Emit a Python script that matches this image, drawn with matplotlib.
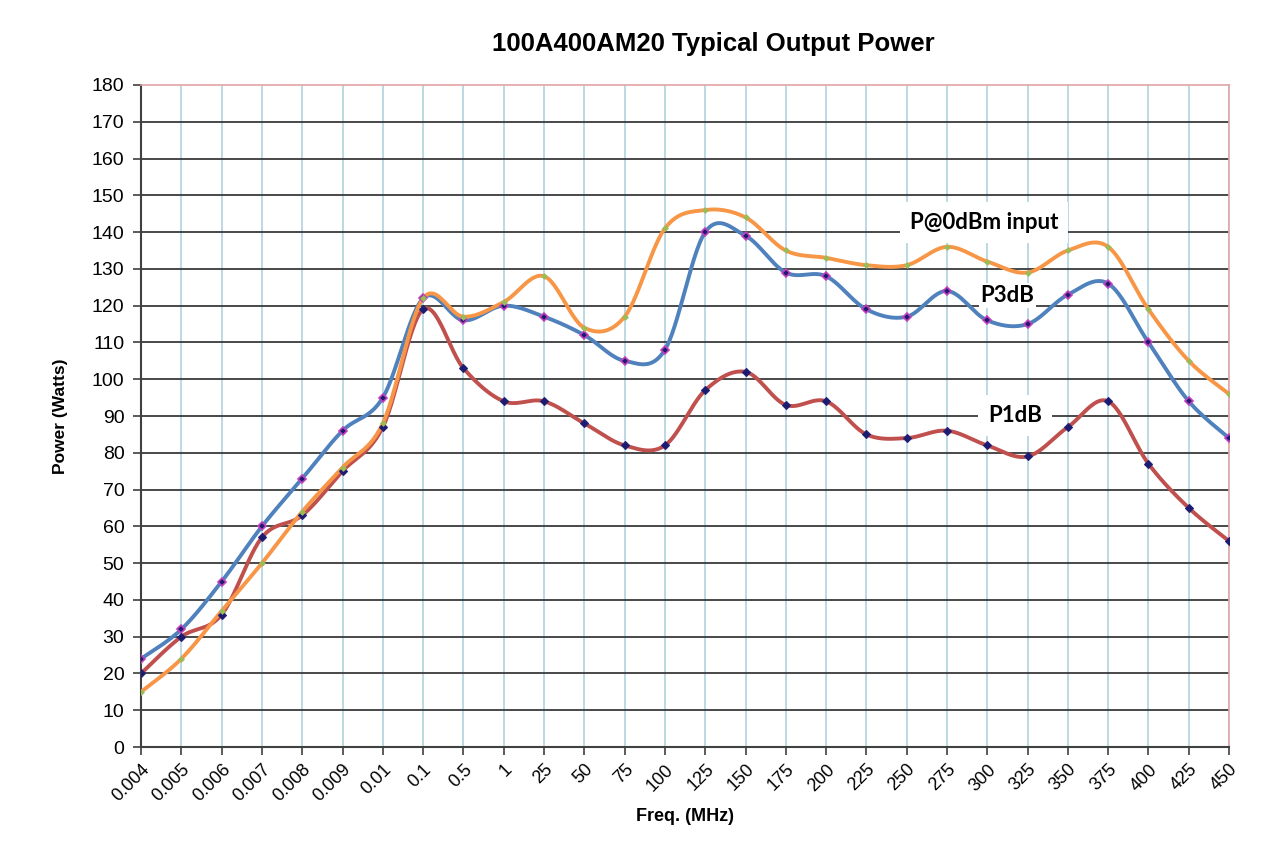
import numpy as np
import matplotlib
matplotlib.use("Agg")
import matplotlib.pyplot as plt

# frequency categories (MHz), plotted as evenly spaced categories
freq_labels = ['0.004', '0.005', '0.006', '0.007', '0.008', '0.009', '0.01',
               '0.1', '0.5', '1', '25', '50', '75', '100', '125', '150', '175',
               '200', '225', '250', '275', '300', '325', '350', '375', '400',
               '425', '450']

# output power in watts
p3db = [24, 32, 45, 60, 73, 86, 95, 122, 116, 120, 117, 112, 105, 108, 140,
        139, 129, 128, 119, 117, 124, 116, 115, 123, 126, 110, 94, 84]
p1db = [20, 30, 36, 57, 63, 75, 87, 119, 103, 94, 94, 88, 82, 82, 97,
        102, 93, 94, 85, 84, 86, 82, 79, 87, 94, 77, 65, 56]
p0dbm = [15, 24, 37, 50, 64, 76, 88, 122, 117, 121, 128, 114, 117, 141, 146,
         144, 135, 133, 131, 131, 136, 132, 129, 135, 136, 119, 105, 96]

y_ticks = list(range(0, 190, 10))


def smooth(x, y, n=30):
    # excel style smoothed line: bezier segments with catmull-rom tangents
    x = np.asarray(x, float)
    y = np.asarray(y, float)
    px = np.concatenate([[x[0]], x, [x[-1]]])
    py = np.concatenate([[y[0]], y, [y[-1]]])
    xs, ys = [], []
    t = np.linspace(0, 1, n)
    for i in range(1, len(px) - 2):
        p0 = np.array([px[i], py[i]])
        p3 = np.array([px[i + 1], py[i + 1]])
        c1 = p0 + (np.array([px[i + 1], py[i + 1]]) - np.array([px[i - 1], py[i - 1]])) / 6
        c2 = p3 - (np.array([px[i + 2], py[i + 2]]) - np.array([px[i], py[i]])) / 6
        b = ((1 - t) ** 3)[:, None] * p0 + (3 * (1 - t) ** 2 * t)[:, None] * c1 \
            + (3 * (1 - t) * t ** 2)[:, None] * c2 + (t ** 3)[:, None] * p3
        xs.extend(b[:, 0])
        ys.extend(b[:, 1])
    return xs, ys


x = np.arange(len(freq_labels))

fig = plt.figure(figsize=(12.8, 8.49), dpi=100)
ax = fig.add_axes([0.1102, 0.1201, 0.8500, 0.7798])

# grid
for xi in x:
    ax.axvline(xi, color='#a9d0dc', lw=1.1, zorder=0)
for yt in y_ticks[1:-1]:
    ax.axhline(yt, color='#3a3a3a', lw=1.3, zorder=0)

# series
sx, sy = smooth(x, p3db)
ax.plot(sx, sy, color='#4f81bd', lw=2.8, zorder=3, solid_capstyle='round')
ax.plot(x, p3db, ls='none', marker='D', ms=4.5, mfc='#1c1c6e', mec='#c040c0',
        mew=1.2, zorder=5)

sx, sy = smooth(x, p1db)
ax.plot(sx, sy, color='#c0504d', lw=2.8, zorder=3, solid_capstyle='round')
ax.plot(x, p1db, ls='none', marker='D', ms=4.5, mfc='#1c1c6e', mec='#22227a',
        mew=0.8, zorder=5)

sx, sy = smooth(x, p0dbm)
ax.plot(sx, sy, color='#f79646', lw=2.8, zorder=4, solid_capstyle='round')
ax.plot(x, p0dbm, ls='none', marker='D', ms=3, mfc='#9bbb59', mec='#9bbb59',
        mew=0.5, zorder=5)

# labels on the chart
lbl_font = dict(family='Lato', weight='bold', fontsize=16, color='black',
                ha='center', va='center', zorder=6)
ax.text(20.92, 142.7, 'P@0dBm input',
        bbox=dict(boxstyle='square,pad=0.45', fc='white', ec='none'), **lbl_font)
ax.text(21.5, 122.7, 'P3dB',
        bbox=dict(boxstyle='square,pad=0.08', fc='white', ec='none'), **lbl_font)
ax.text(21.69, 90.2, 'P1dB',
        bbox=dict(boxstyle='square,pad=0.45', fc='white', ec='none'), **lbl_font)

ax.set_xlim(0, len(freq_labels) - 1)
ax.set_ylim(0, 180)
ax.set_xticks(x)
ax.set_xticklabels(freq_labels, rotation=45, ha='right', rotation_mode='anchor',
                   family='Liberation Sans', fontsize=13)
ax.set_yticks(y_ticks)
ax.set_yticklabels([str(v) for v in y_ticks], family='Liberation Sans', fontsize=14)
ax.tick_params(axis='both', direction='out', length=6, width=1.2, color='#404040')
ax.tick_params(axis='x', pad=4)
ax.tick_params(axis='y', pad=6)

for side in ['left', 'bottom']:
    ax.spines[side].set_color('#404040')
    ax.spines[side].set_linewidth(1.5)
for side in ['top', 'right']:
    ax.spines[side].set_color('#e0a4a4')
    ax.spines[side].set_linewidth(1.2)

ax.set_ylabel('Power (Watts)', family='Liberation Sans', weight='bold', fontsize=12.5,
              labelpad=17)
ax.set_xlabel('Freq. (MHz)', family='Liberation Sans', weight='bold', fontsize=13,
              labelpad=2)
fig.text(0.557, 0.948, '100A400AM20 Typical Output Power', family='Liberation Sans',
         weight='bold', fontsize=18.5, ha='center', va='center')

fig.savefig('out.png', dpi=100)
